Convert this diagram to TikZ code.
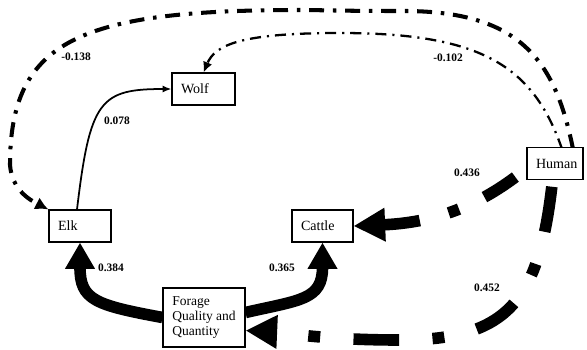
\documentclass[tikz,border=0pt]{standalone}
\usepackage{fontspec}
\setmainfont{Liberation Serif}
\usepackage{tikz}
\usetikzlibrary{calc}
\usetikzlibrary{arrows.meta,backgrounds}

\tikzset{
	box/.style={draw, fill=white, line width=0.6pt, inner xsep=0.18cm, inner ysep=0pt, align=left,
		minimum height=0.64cm, font=\fontsize{8}{8.8}\selectfont},
	coef/.style={font=\fontsize{6.5}{7}\selectfont\bfseries, inner sep=0pt},
	thin path/.style={line width=1pt, -{Latex[length=5pt,width=4pt]}},
	dd elk/.style={line width=2.3pt, dash pattern=on 8.5pt off 5pt on 2pt off 5pt,
		-{Latex[length=7.5pt,width=7.5pt]}},
	dd wolf/.style={line width=1.3pt, dash pattern=on 6.3pt off 3.4pt on 1.2pt off 3.4pt,
		-{Latex[length=6pt,width=5.5pt]}},
	heavy/.style={line width=6.6pt, -{Triangle[length=15pt,width=16pt]}},
	heavy dd/.style={line width=6.6pt, {Triangle[length=18pt,width=18pt]}-}
}

\begin{document}
\begin{tikzpicture}[x=0.02cm, y=-0.02cm]
			\useasboundingbox (0,0) rectangle (587,349);

			\node[box, text width=0.9cm] (wolf) at (203.5,89) {Wolf};
			\node[box, text width=0.88cm] (elk) at (80,226) {Elk};
			\node[box, text width=0.86cm] (cattle) at (322.5,226) {Cattle};
			\node[box, text width=0.76cm] (human) at (555,163.5) {Human};
			\node[box, minimum width=1.64cm, minimum height=1.18cm, font=\fontsize{7.7}{8.8}\selectfont] (forage) at (204,317.5) {Forage\\Quality and\\Quantity};

			%path coefficients
			\node[coef] (k1) at ($(elk) + (37,-105)$) {0.078};
			\node[coef] (k2) at ($(elk) + (-4,-169)$) {-0.138};
			\node[coef] (k3) at ($(human) + (-107,-105.5)$) {-0.102};
			\node[coef] (k4) at ($(human) + (-88,9.5)$) {0.436};
			\node[coef] (k5) at ($(human) + (-68,124.5)$) {0.452};
			\node[coef] (k6) at ($(elk) + (31,42)$) {0.384};
			\node[coef] (k7) at ($(cattle) + (-40.5,42)$) {0.365};

			\begin{scope}[on background layer]
			\draw[thin path] ($(elk.north)+(-3,0)$) .. controls (90,100) and (100,89) .. (wolf.west);

			\draw[dd elk] ($(human.north)+(18,2)$) .. controls (555,60) and (520,10) .. (400,11)
				.. controls (340,11) and (320,10) .. (300,10)
				.. controls (80,10) and (10,40) .. (10,165) .. controls (12,190) and (30,200) .. (elk.north west);
			\draw[dd wolf] ($(human.north)+(7,2)$) .. controls (533,65) and (480,33) .. (340,33)
				.. controls (240,33) and (215,45) .. (wolf.north);

			% heavy human paths drawn from their heads so the dashes line up
			\draw[heavy dd, dash pattern=on 21pt off 17pt on 6.3pt off 16pt] (cattle.east)
				.. controls (450,222) and (495,195) .. ($(human.west)+(6,0)$);
			\draw[heavy dd, dash pattern=on 6.8pt off 19pt on 26pt off 19pt, dash phase=51.8pt]
				($(forage.south east)+(0,-17)$) .. controls (280,332) and (320,340) .. (400,340)
				.. controls (510,340) and (540,300) .. ($(human.south)+(-2,-4)$);

			\draw[heavy] (forage.west) .. controls (95,305) and (80,300) .. (elk.south);
			\draw[heavy] ($(forage.east)+(0,-5)$) .. controls (300,300) and (322.5,300) .. (cattle.south);
			\end{scope}

		\end{tikzpicture}
\end{document}
